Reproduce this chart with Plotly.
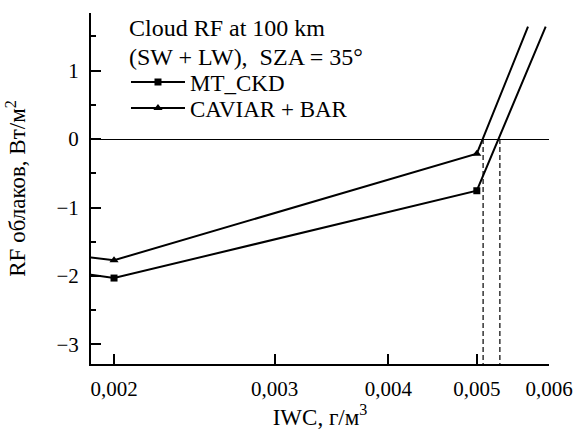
import math
import plotly.graph_objects as go

# IWC values (g/m^3)
iwc = [0.0018, 0.002, 0.005]
# MT_CKD series
mt_iwc = iwc + [0.00595]
mt_rf = [-1.94, -2.03, -0.755, 1.64]
# CAVIAR + BAR series
cv_iwc = iwc + [0.00569]
cv_rf = [-1.70, -1.77, -0.215, 1.64]
# zero crossings (dashed markers)
cross_x = [0.00508, 0.0053]

xticks = [0.002, 0.003, 0.004, 0.005, 0.006]
xticktext = ["0,002", "0,003", "0,004", "0,005", "0,006"]
yticks = [-3, -2, -1, 0, 1]

FONT = "Liberation Serif"
fig = go.Figure()

for xs, ys in ((mt_iwc, mt_rf), (cv_iwc, cv_rf)):
    fig.add_trace(go.Scatter(x=xs, y=ys, mode="lines",
                             line=dict(color="black", width=2), showlegend=False))

fig.add_trace(go.Scatter(x=mt_iwc[1:3], y=mt_rf[1:3], mode="markers",
                         marker=dict(symbol="square", size=7, color="black"), showlegend=False))
fig.add_trace(go.Scatter(x=cv_iwc[1:3], y=cv_rf[1:3], mode="markers",
                         marker=dict(symbol="triangle-up", size=8, color="black"), showlegend=False))

for cx in cross_x:
    fig.add_trace(go.Scatter(x=[cx, cx], y=[0, -3.4], mode="lines",
                             line=dict(color="black", width=1.2, dash="5px,3px"), showlegend=False))

# legend entries
fig.add_trace(go.Scatter(x=[None], y=[None], mode="lines+markers", name="MT_CKD",
                         line=dict(color="black", width=2), legend="legend",
                         marker=dict(symbol="square", size=7, color="black")))
fig.add_trace(go.Scatter(x=[None], y=[None], mode="lines+markers", name="CAVIAR + BAR",
                         line=dict(color="black", width=2), legend="legend2",
                         marker=dict(symbol="triangle-up", size=8, color="black")))

leg_common = dict(x=0.0764, xanchor="left", yanchor="middle",
                  bgcolor="rgba(0,0,0,0)", font=dict(family=FONT, size=23),
                  itemwidth=54)

fig.update_layout(
    width=579, height=430,
    margin=dict(l=91, r=30, t=13, b=66),
    paper_bgcolor="white", plot_bgcolor="white",
    font=dict(family=FONT, size=21, color="black"),
    separators=", ",
    showlegend=True,
    legend=dict(y=0.803, **leg_common),
    legend2=dict(y=0.729, **leg_common),
    xaxis=dict(type="log", range=[math.log10(0.001887), math.log10(0.006)],
               tickvals=xticks, ticktext=xticktext, automargin=False,
               ticks="inside", ticklen=10, tickwidth=1.5, tickcolor="black",
               tickfont=dict(family=FONT, size=21),
               showline=True, linecolor="black", linewidth=2,
               showgrid=False, zeroline=False,
               title=dict(text="IWC, г/м<sup>3</sup>", standoff=5, font=dict(family=FONT, size=23)),
               ticklabelstandoff=5),
    yaxis=dict(range=[-3.285, 1.84], tickvals=yticks, automargin=False,
               ticks="inside", ticklen=10, tickwidth=1.5, tickcolor="black",
               tickfont=dict(family=FONT, size=21),
               minor=dict(dtick=0.5, ticks="inside", ticklen=5, tickwidth=1.5, tickcolor="black"),
               showline=True, linecolor="black", linewidth=2,
               showgrid=False, zeroline=True, zerolinecolor="black", zerolinewidth=1.3,
               title=dict(text="RF облаков, Вт/м<sup>2</sup>", standoff=24, font=dict(family=FONT, size=23)),
               ticklabelstandoff=6),
)

fig.add_annotation(text="Cloud RF at 100 km", xref="paper", yref="paper",
                   x=0.0786, y=0.957, xanchor="left", yanchor="middle", showarrow=False,
                   font=dict(family=FONT, size=24))
fig.add_annotation(text="(SW + LW),  SZA = 35°", xref="paper", yref="paper",
                   x=0.0786, y=0.875, xanchor="left", yanchor="middle", showarrow=False,
                   font=dict(family=FONT, size=24))

fig.write_html("out.html")
